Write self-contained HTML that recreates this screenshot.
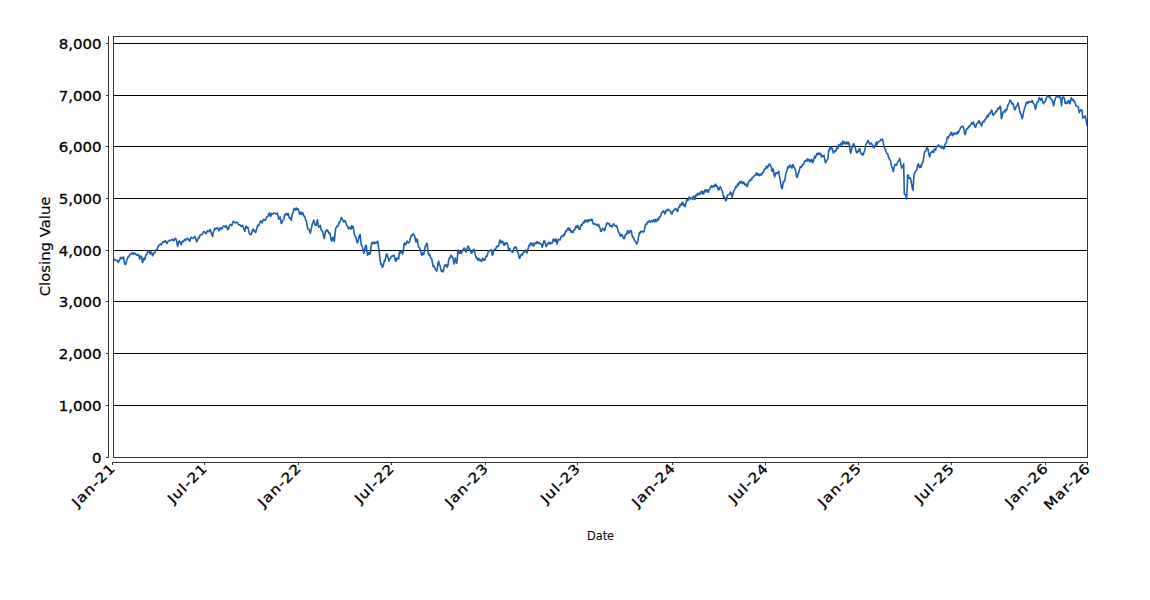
<!DOCTYPE html><html><head><meta charset="utf-8"><title>Closing Value</title><style>html,body{margin:0;padding:0;background:#fff;}svg{display:block;}</style></head><body>
<svg width="1150" height="600" viewBox="0 0 1150 600">
<rect width="1150" height="600" fill="#fff"/>
<g shape-rendering="crispEdges" stroke="#000" stroke-width="1">
<line x1="113" y1="43.5" x2="1088" y2="43.5"/>
<line x1="113" y1="95.5" x2="1088" y2="95.5"/>
<line x1="113" y1="146.5" x2="1088" y2="146.5"/>
<line x1="113" y1="198.5" x2="1088" y2="198.5"/>
<line x1="113" y1="250.5" x2="1088" y2="250.5"/>
<line x1="113" y1="301.5" x2="1088" y2="301.5"/>
<line x1="113" y1="353.5" x2="1088" y2="353.5"/>
<line x1="113" y1="405.5" x2="1088" y2="405.5"/>
<line x1="113" y1="457.5" x2="1088" y2="457.5"/>
</g>
<defs><clipPath id="plotclip"><rect x="113" y="36" width="975" height="422"/></clipPath></defs>
<path clip-path="url(#plotclip)" d="M113.5 260.0 L114.3 259.3 L115.2 260.0 L115.8 260.6 L116.5 260.4 L117.4 260.2 L118.3 262.3 L118.9 261.7 L119.6 260.4 L120.2 257.9 L120.9 257.4 L121.6 258.6 L122.2 258.3 L122.8 257.4 L123.5 257.0 L124.3 262.2 L124.9 264.3 L125.5 264.6 L126.5 261.3 L127.4 258.6 L128.3 256.5 L129.0 256.6 L129.7 254.7 L130.4 254.3 L131.1 254.2 L131.9 252.6 L132.6 253.0 L133.4 254.4 L134.3 253.0 L135.0 253.3 L135.7 254.3 L136.6 255.3 L137.4 255.2 L138.3 254.3 L138.9 255.6 L139.6 259.1 L140.6 256.1 L141.5 256.5 L142.3 262.6 L142.9 262.2 L143.5 258.7 L144.2 258.1 L144.8 259.6 L145.8 255.2 L146.6 254.7 L147.4 252.6 L148.2 250.6 L149.1 251.7 L149.6 253.1 L150.2 253.9 L150.9 251.8 L151.6 252.6 L152.2 254.8 L152.8 255.7 L153.4 253.9 L153.9 253.0 L154.6 253.0 L155.2 252.2 L155.8 250.3 L156.5 249.6 L157.2 249.6 L157.8 247.0 L158.7 245.6 L159.6 245.2 L160.4 243.9 L161.3 244.7 L162.2 243.5 L162.8 241.8 L163.5 242.2 L164.2 242.3 L164.8 240.9 L165.4 240.6 L166.1 242.2 L167.0 243.5 L167.8 241.3 L168.5 241.3 L169.3 240.4 L170.0 240.4 L170.8 240.5 L171.7 239.6 L172.6 239.1 L173.5 240.9 L174.3 240.4 L175.2 238.3 L175.8 238.7 L176.5 240.4 L177.1 244.5 L177.7 246.5 L178.7 241.7 L179.3 240.9 L180.0 241.7 L180.7 243.9 L181.3 244.8 L181.9 241.7 L182.6 241.3 L183.4 241.8 L184.3 240.0 L185.0 239.2 L185.8 240.4 L186.5 239.1 L187.4 238.2 L188.3 239.1 L189.3 240.9 L189.9 241.2 L190.4 238.7 L191.3 237.3 L192.2 238.3 L193.1 238.5 L193.9 237.4 L194.8 236.3 L195.7 238.3 L196.7 241.7 L197.2 241.0 L197.8 239.6 L198.5 237.3 L199.3 237.9 L200.0 235.2 L200.8 234.6 L201.7 234.8 L202.6 234.0 L203.5 231.5 L204.2 231.6 L204.8 232.2 L205.7 233.7 L206.5 233.0 L207.2 230.7 L207.8 230.9 L208.7 231.7 L209.6 230.4 L210.2 229.6 L210.9 231.7 L211.8 234.7 L212.6 236.5 L213.2 232.7 L213.9 231.3 L214.8 228.3 L215.7 229.3 L216.5 228.3 L217.4 227.7 L218.3 229.1 L218.9 230.6 L219.6 230.4 L220.2 227.7 L220.9 227.8 L221.8 229.1 L222.6 227.4 L223.4 226.1 L224.3 226.5 L225.2 227.2 L226.1 225.7 L226.9 227.4 L227.8 229.6 L228.4 229.2 L229.1 226.5 L230.0 224.5 L230.9 224.8 L231.8 225.5 L232.6 223.0 L233.4 221.2 L234.3 222.2 L235.2 223.0 L236.1 222.6 L236.9 222.1 L237.8 223.0 L238.7 225.0 L239.6 224.8 L240.2 225.2 L240.9 226.1 L241.6 226.5 L242.2 225.2 L242.8 226.1 L243.5 227.8 L244.2 229.9 L244.8 231.3 L245.4 228.4 L246.1 226.1 L246.9 227.8 L247.8 227.0 L248.4 229.4 L249.1 232.6 L250.0 234.3 L250.7 234.8 L251.3 234.3 L252.2 231.3 L252.8 229.5 L253.5 229.1 L254.2 231.4 L254.8 230.9 L255.7 232.6 L256.4 229.9 L257.0 227.8 L257.8 225.2 L258.5 225.8 L259.1 224.8 L260.0 222.2 L260.6 220.8 L261.3 221.3 L262.0 222.9 L262.6 221.7 L263.5 219.3 L264.3 219.6 L265.2 220.4 L266.1 218.3 L266.8 216.8 L267.4 216.5 L268.1 216.1 L268.9 213.5 L269.6 213.0 L270.2 216.0 L270.9 216.1 L271.5 213.5 L272.2 213.9 L273.0 213.9 L273.9 213.0 L274.8 213.0 L275.7 213.9 L276.5 214.0 L277.4 213.0 L278.0 215.5 L278.7 219.1 L279.4 218.9 L280.0 217.0 L280.6 219.2 L281.3 223.5 L282.0 222.8 L282.6 220.9 L283.2 219.8 L283.9 219.1 L284.8 214.3 L285.5 214.7 L286.1 213.5 L286.8 213.6 L287.4 215.2 L288.3 213.5 L289.0 216.9 L289.6 218.3 L290.5 217.8 L291.3 220.4 L292.2 213.9 L293.0 212.7 L293.9 209.1 L294.4 208.3 L295.0 209.3 L295.7 210.3 L296.4 208.1 L297.0 209.4 L297.7 209.1 L298.4 209.1 L299.0 212.0 L299.6 214.3 L300.3 214.0 L301.0 212.1 L301.6 214.5 L302.3 212.7 L303.0 213.1 L303.6 215.7 L304.3 216.0 L305.0 217.2 L305.6 220.2 L306.3 220.7 L307.0 224.4 L307.7 228.7 L308.4 229.3 L309.0 229.3 L309.6 230.8 L310.3 233.3 L311.0 230.4 L311.7 226.7 L312.4 223.8 L313.0 222.5 L313.7 220.0 L314.4 222.1 L315.0 224.7 L315.6 225.4 L316.3 225.3 L316.9 222.2 L317.4 219.7 L318.0 224.2 L318.7 227.3 L319.5 226.1 L320.3 225.3 L321.0 229.4 L321.7 230.7 L322.4 230.9 L323.0 233.3 L323.6 236.4 L324.3 238.7 L325.0 234.1 L325.7 230.7 L326.4 231.3 L327.0 229.8 L327.7 230.4 L328.4 232.2 L329.0 233.3 L329.6 232.6 L330.3 234.7 L331.0 239.6 L331.7 241.3 L332.4 238.4 L333.0 237.3 L333.6 240.2 L334.3 241.3 L335.0 234.3 L335.7 228.0 L336.4 227.7 L337.0 226.0 L337.7 226.0 L338.4 225.5 L339.0 222.4 L339.7 222.7 L340.5 220.4 L341.4 217.3 L342.2 218.8 L343.0 220.7 L343.8 222.2 L344.6 220.7 L345.5 221.4 L346.3 224.0 L347.0 226.0 L347.6 226.2 L348.3 228.7 L349.0 228.7 L349.6 227.3 L350.3 228.0 L351.0 229.2 L351.6 225.8 L352.3 228.0 L353.0 226.4 L353.6 229.6 L354.3 234.0 L355.0 236.1 L355.7 236.7 L356.4 239.3 L357.0 242.7 L357.6 242.6 L358.3 240.0 L359.2 236.3 L360.1 234.4 L361.0 242.7 L361.6 246.0 L362.3 246.7 L363.0 249.3 L363.7 253.3 L364.4 251.2 L365.0 248.0 L365.6 245.3 L366.3 245.3 L367.0 251.9 L367.7 255.3 L368.4 252.6 L369.0 252.7 L369.6 254.3 L370.3 253.3 L371.0 246.7 L371.7 242.7 L372.4 243.8 L373.0 242.0 L373.7 242.4 L374.4 243.6 L375.0 242.3 L375.7 243.3 L376.4 242.9 L377.0 241.7 L377.7 241.3 L378.4 246.6 L379.0 250.7 L379.6 255.4 L380.3 261.3 L381.0 264.5 L381.6 263.8 L382.3 267.3 L383.0 266.5 L383.7 264.0 L384.4 260.3 L385.0 261.1 L385.7 257.3 L386.4 254.1 L387.0 254.0 L387.7 257.1 L388.3 258.4 L389.0 261.3 L390.0 258.7 L390.7 258.3 L391.3 256.4 L392.0 256.0 L392.6 256.1 L393.3 255.3 L394.0 255.2 L394.7 257.3 L395.4 260.8 L396.0 261.3 L396.6 258.3 L397.3 258.0 L398.0 259.2 L398.7 258.7 L399.3 252.7 L400.0 251.1 L400.6 253.1 L401.3 251.3 L402.0 252.3 L402.7 254.0 L403.4 250.1 L404.0 244.0 L404.6 242.9 L405.3 244.7 L406.0 244.6 L406.7 242.0 L407.4 241.1 L408.0 242.7 L408.9 242.9 L409.7 241.3 L410.5 237.9 L411.3 235.3 L412.1 236.0 L412.9 234.0 L413.8 234.3 L414.7 236.0 L415.4 240.3 L416.0 242.0 L416.6 239.1 L417.3 239.3 L418.0 244.1 L418.7 247.3 L419.5 247.9 L420.4 250.0 L421.3 254.0 L422.0 255.5 L422.6 252.8 L423.3 254.4 L424.0 254.0 L424.6 249.6 L425.3 246.0 L426.0 245.7 L426.6 243.2 L427.3 244.0 L428.0 252.7 L428.7 254.9 L429.3 254.0 L430.0 255.3 L430.6 258.0 L431.3 258.0 L432.0 259.8 L432.7 264.7 L433.4 266.7 L434.0 265.7 L434.7 267.3 L435.4 269.6 L436.0 269.6 L436.7 271.3 L437.4 268.2 L438.0 263.1 L438.7 261.3 L439.4 264.9 L440.0 265.3 L440.7 268.7 L441.4 271.3 L442.0 270.1 L442.7 272.0 L443.4 271.1 L444.0 267.3 L444.7 265.1 L445.3 266.1 L446.0 264.7 L446.6 265.4 L447.3 267.3 L448.0 264.8 L448.6 260.6 L449.3 258.0 L450.0 258.1 L450.6 255.6 L451.3 255.3 L452.0 257.1 L452.7 257.3 L453.4 260.3 L454.0 264.0 L454.6 262.5 L455.3 258.0 L456.0 260.0 L456.7 263.3 L457.4 257.8 L458.0 250.7 L458.7 250.2 L459.3 253.3 L460.0 252.4 L460.7 251.5 L461.3 253.6 L462.0 252.0 L462.7 249.8 L463.3 250.3 L464.0 248.0 L464.7 248.4 L465.3 250.9 L466.0 252.0 L466.7 249.2 L467.3 248.5 L468.0 246.0 L468.7 246.9 L469.3 249.5 L470.0 249.3 L470.6 250.9 L471.3 253.3 L472.0 253.2 L472.6 250.1 L473.3 251.3 L474.0 249.3 L474.6 251.6 L475.3 255.3 L476.0 257.6 L476.6 257.0 L477.3 259.3 L478.0 260.4 L478.6 258.6 L479.3 258.7 L480.0 260.6 L480.6 259.9 L481.3 261.3 L482.0 261.0 L482.6 258.3 L483.3 258.7 L484.1 260.3 L485.0 260.0 L485.6 257.0 L486.3 256.0 L487.0 256.3 L487.7 254.0 L488.4 250.9 L489.0 250.7 L489.6 251.2 L490.3 250.0 L491.0 249.6 L491.7 251.3 L492.3 255.3 L493.0 254.2 L493.7 251.3 L494.4 249.4 L495.0 249.3 L495.6 249.5 L496.3 247.3 L497.0 246.2 L497.7 246.7 L498.4 246.3 L499.0 244.0 L499.6 241.1 L500.3 240.0 L501.0 242.9 L501.7 242.7 L502.4 241.2 L503.0 242.0 L503.6 245.1 L504.3 245.3 L505.0 242.9 L505.6 244.1 L506.3 242.7 L507.0 243.0 L507.7 245.3 L508.4 248.8 L509.0 249.3 L509.7 248.4 L510.3 250.6 L511.0 250.7 L511.7 250.8 L512.3 252.4 L513.0 252.0 L513.6 249.3 L514.3 247.3 L515.0 247.8 L515.6 247.0 L516.3 247.3 L517.0 250.8 L517.7 252.0 L518.4 253.4 L519.0 257.3 L519.6 258.5 L520.3 256.7 L521.0 254.9 L521.7 254.0 L522.4 254.9 L523.0 253.3 L523.7 251.3 L524.3 252.0 L525.0 250.7 L525.6 249.9 L526.3 252.0 L527.0 252.9 L527.7 250.7 L528.4 247.5 L529.0 245.3 L529.6 245.8 L530.3 243.3 L531.0 243.0 L531.6 245.1 L532.3 244.7 L533.0 243.1 L533.6 246.1 L534.3 244.7 L535.0 243.3 L535.7 242.7 L536.4 243.4 L537.0 241.6 L537.7 242.4 L538.4 243.4 L539.0 242.5 L539.7 243.3 L540.4 244.3 L541.0 244.0 L541.6 244.4 L542.3 247.3 L543.0 244.5 L543.7 241.3 L544.4 240.7 L545.0 242.0 L545.6 245.2 L546.3 246.7 L547.0 244.8 L547.7 243.3 L548.4 244.0 L549.0 242.2 L549.7 243.3 L550.4 244.0 L551.0 242.6 L551.7 242.7 L552.4 242.9 L553.0 240.0 L553.6 239.0 L554.3 240.7 L555.0 241.3 L555.7 238.7 L556.4 241.0 L557.0 244.0 L557.6 242.2 L558.3 239.3 L559.0 239.4 L559.7 240.0 L560.4 239.6 L561.0 236.7 L561.7 235.9 L562.3 236.6 L563.0 236.0 L563.7 234.3 L564.3 235.7 L565.0 233.3 L565.7 230.9 L566.3 231.7 L567.0 230.0 L567.6 228.6 L568.3 228.0 L569.0 230.2 L569.6 228.3 L570.3 230.0 L571.0 231.9 L571.6 231.0 L572.3 232.3 L573.0 232.7 L573.6 230.2 L574.3 230.0 L575.0 229.5 L575.6 227.0 L576.3 226.0 L577.0 227.7 L577.6 225.4 L578.3 226.7 L579.1 229.3 L580.0 229.3 L580.6 226.7 L581.3 224.7 L582.0 225.4 L582.7 223.3 L583.4 222.1 L584.0 223.0 L584.7 220.7 L585.4 220.1 L586.0 221.8 L586.7 221.3 L587.4 219.9 L588.0 221.9 L588.7 220.0 L589.4 219.7 L590.0 220.8 L590.7 220.7 L591.4 219.1 L592.0 219.3 L592.6 222.2 L593.3 224.0 L594.0 223.6 L594.6 224.4 L595.3 224.0 L596.0 224.4 L596.7 225.3 L597.4 225.6 L598.0 224.3 L598.7 224.7 L599.4 227.5 L600.0 227.8 L600.7 231.3 L601.4 231.3 L602.0 230.0 L602.6 228.4 L603.3 228.7 L604.0 230.1 L604.7 230.7 L605.4 227.5 L606.0 226.0 L606.7 223.3 L607.4 223.0 L608.0 224.0 L608.7 224.0 L609.4 223.4 L610.0 226.3 L610.7 226.0 L611.4 225.5 L612.0 226.9 L612.7 226.0 L613.5 223.8 L614.4 224.7 L615.2 226.0 L616.0 226.7 L616.6 225.7 L617.3 227.3 L618.0 230.8 L618.7 232.7 L619.4 233.1 L620.0 235.3 L620.6 236.4 L621.3 234.7 L622.0 234.6 L622.7 236.0 L623.5 238.3 L624.3 238.7 L625.1 235.2 L626.0 234.0 L626.7 234.5 L627.3 231.1 L628.0 230.7 L628.8 233.1 L629.6 232.7 L630.5 230.5 L631.3 230.7 L632.0 235.1 L632.7 237.3 L633.4 237.2 L634.0 238.7 L634.6 240.7 L635.3 241.3 L636.0 242.4 L636.7 244.0 L637.4 242.7 L638.0 240.7 L638.6 236.4 L639.3 232.7 L640.0 233.5 L640.6 231.2 L641.3 231.3 L642.0 232.0 L642.6 231.4 L643.3 232.0 L644.0 231.7 L644.7 228.7 L645.4 224.9 L646.0 224.0 L646.7 224.5 L647.3 222.1 L648.0 222.0 L648.7 222.3 L649.3 220.9 L650.0 221.3 L650.7 222.1 L651.3 220.9 L652.0 221.3 L652.7 221.7 L653.3 219.9 L654.0 220.0 L654.7 222.0 L655.3 219.3 L656.0 221.3 L656.7 221.4 L657.3 219.0 L658.0 218.7 L658.7 219.8 L659.3 217.1 L660.0 217.3 L660.6 216.0 L661.3 213.3 L662.0 212.2 L662.6 212.3 L663.3 210.7 L664.0 211.5 L664.7 214.0 L665.4 213.3 L666.0 210.7 L666.7 209.8 L667.3 210.7 L668.0 209.3 L668.7 209.6 L669.3 210.8 L670.0 210.7 L670.7 211.5 L671.3 213.7 L672.0 214.0 L672.6 212.1 L673.3 210.7 L674.1 209.9 L675.0 208.7 L675.6 208.4 L676.3 209.3 L677.0 210.8 L677.7 211.3 L678.4 208.0 L679.0 206.7 L679.7 207.0 L680.3 204.1 L681.0 204.7 L681.7 205.2 L682.3 202.2 L683.0 202.7 L683.7 205.5 L684.3 204.6 L685.0 206.7 L685.6 204.7 L686.3 201.3 L687.0 199.4 L687.7 200.7 L688.4 200.0 L689.0 197.2 L689.7 197.3 L690.4 198.9 L691.0 198.0 L691.7 198.7 L692.4 199.1 L693.0 196.7 L693.7 196.1 L694.3 199.5 L695.0 199.3 L695.6 195.8 L696.3 194.7 L697.0 195.6 L697.6 193.4 L698.3 193.3 L699.0 194.6 L699.7 194.0 L700.4 192.2 L701.0 193.6 L701.7 191.3 L702.4 191.3 L703.0 194.0 L703.6 194.0 L704.3 191.3 L705.0 189.8 L705.6 191.9 L706.3 190.0 L707.0 189.8 L707.7 192.0 L708.4 192.3 L709.0 189.7 L709.7 189.3 L710.4 187.9 L711.0 186.0 L711.7 185.8 L712.3 187.2 L713.0 186.7 L713.7 185.7 L714.3 186.7 L715.0 184.7 L715.7 184.2 L716.3 186.6 L717.0 186.0 L717.6 186.9 L718.3 190.0 L719.0 189.8 L719.7 187.3 L720.4 186.8 L721.0 188.0 L721.7 190.4 L722.3 191.1 L723.0 194.7 L723.7 197.3 L724.3 196.5 L725.0 198.7 L725.7 200.7 L726.4 199.9 L727.0 197.3 L727.6 194.9 L728.3 194.7 L729.0 194.6 L729.7 194.0 L730.4 192.1 L731.0 192.7 L731.6 195.6 L732.3 197.3 L733.0 193.7 L733.7 190.7 L734.4 190.3 L735.0 188.7 L735.7 186.6 L736.3 187.4 L737.0 186.0 L737.7 183.7 L738.3 185.4 L739.0 182.7 L739.7 181.6 L740.3 183.0 L741.0 182.0 L741.7 181.4 L742.3 183.6 L743.0 182.7 L743.6 182.1 L744.3 184.0 L745.0 185.1 L745.7 184.0 L746.4 184.3 L747.0 186.7 L747.7 185.2 L748.3 182.7 L749.0 181.3 L749.7 181.4 L750.3 179.2 L751.0 180.0 L751.7 179.7 L752.3 177.2 L753.0 177.3 L753.7 176.9 L754.3 175.7 L755.0 175.3 L755.7 175.2 L756.3 172.8 L757.0 173.3 L757.7 175.1 L758.3 173.5 L759.0 175.3 L759.7 175.7 L760.3 174.0 L761.0 174.7 L761.7 174.9 L762.3 172.5 L763.0 172.7 L763.7 171.9 L764.3 169.0 L765.0 169.3 L765.7 169.1 L766.3 166.4 L767.0 167.3 L767.6 167.8 L768.3 165.3 L769.1 164.4 L769.9 164.0 L770.6 166.2 L771.3 166.7 L772.0 171.3 L772.6 169.0 L773.3 169.3 L774.0 174.6 L774.7 176.7 L775.4 173.9 L776.0 172.7 L776.6 173.6 L777.3 173.3 L778.0 171.8 L778.7 171.3 L779.4 176.5 L780.0 178.7 L780.6 182.5 L781.3 187.3 L782.3 188.7 L783.3 181.3 L784.0 182.0 L784.7 180.7 L785.4 176.6 L786.0 173.3 L786.6 171.9 L787.3 168.7 L788.0 166.5 L788.6 167.8 L789.3 166.7 L790.0 165.0 L790.7 166.0 L791.4 167.9 L792.0 168.0 L792.6 164.9 L793.3 164.7 L794.0 167.5 L794.7 168.0 L795.4 170.1 L796.0 173.3 L796.6 176.8 L797.3 177.3 L798.0 174.1 L798.7 172.7 L799.4 170.2 L800.0 167.3 L800.7 166.7 L801.3 167.3 L802.0 166.0 L802.6 164.5 L803.3 164.7 L804.0 163.6 L804.7 161.3 L805.4 160.5 L806.0 161.1 L806.7 160.0 L807.4 159.1 L808.0 160.9 L808.7 159.3 L809.4 159.8 L810.0 161.9 L810.7 161.3 L811.4 159.3 L812.0 160.0 L812.7 162.7 L813.4 161.1 L814.0 158.7 L814.7 156.3 L815.3 158.1 L816.0 156.0 L816.7 153.6 L817.3 154.8 L818.0 153.3 L818.7 152.8 L819.3 154.5 L820.0 154.0 L820.7 153.3 L821.3 156.8 L822.0 156.7 L822.7 155.5 L823.3 156.6 L824.0 155.3 L824.6 158.4 L825.3 162.7 L826.0 162.0 L826.7 160.7 L827.4 159.4 L828.0 158.7 L828.7 150.0 L829.4 150.3 L830.0 147.2 L830.7 146.7 L831.4 148.9 L832.0 148.0 L832.6 149.8 L833.3 152.7 L834.0 152.8 L834.6 150.9 L835.3 151.3 L836.0 150.7 L836.6 148.4 L837.3 148.0 L838.0 148.6 L838.6 144.8 L839.3 145.3 L840.0 146.2 L840.6 143.4 L841.3 144.0 L842.0 144.8 L842.6 141.1 L843.3 142.0 L844.0 143.6 L844.6 142.1 L845.3 144.0 L846.0 143.8 L846.6 141.9 L847.3 142.7 L848.0 144.0 L848.6 142.3 L849.3 144.0 L850.0 149.8 L850.7 153.3 L851.4 150.0 L852.0 148.0 L852.7 146.9 L853.3 143.8 L854.0 144.0 L854.7 146.6 L855.3 147.6 L856.0 150.7 L856.6 152.4 L857.3 152.7 L858.0 150.7 L858.6 151.3 L859.3 148.7 L860.0 148.9 L860.6 152.8 L861.3 154.0 L862.0 153.5 L862.7 155.3 L863.4 154.3 L864.0 152.0 L865.0 149.7 L865.6 145.7 L866.3 143.7 L867.1 142.8 L867.9 140.3 L868.8 141.9 L869.7 144.3 L870.4 144.1 L871.0 143.0 L871.6 143.5 L872.3 145.0 L873.0 147.4 L873.6 145.9 L874.3 147.7 L875.0 146.2 L875.7 143.7 L876.4 142.0 L877.0 144.8 L877.7 143.0 L878.4 141.5 L879.0 141.7 L879.6 141.4 L880.3 140.3 L881.0 139.4 L881.6 139.8 L882.3 139.0 L883.0 141.3 L883.7 145.0 L884.4 147.3 L885.0 149.0 L885.6 150.1 L886.3 152.3 L887.0 153.6 L887.7 153.7 L888.7 157.7 L889.7 159.7 L890.4 160.4 L891.0 163.0 L891.6 166.8 L892.3 167.7 L893.3 171.7 L894.3 166.3 L895.0 164.4 L895.7 165.0 L896.4 165.4 L897.0 164.3 L897.6 161.9 L898.3 161.0 L899.0 160.6 L899.7 158.3 L900.7 163.7 L901.7 168.3 L902.4 166.0 L903.0 165.9 L903.7 163.7 L904.3 194.3 L905.0 194.4 L905.7 195.0 L906.6 199.0 L907.2 187.6 L907.7 175.0 L908.4 175.1 L909.0 178.3 L909.6 178.4 L910.3 177.7 L911.0 180.4 L911.7 185.0 L912.4 188.7 L913.0 190.3 L913.6 180.2 L914.3 173.0 L915.0 172.8 L915.6 171.1 L916.3 171.0 L917.0 169.1 L917.6 165.4 L918.3 163.7 L919.0 166.5 L919.7 167.7 L920.4 165.3 L921.0 167.3 L921.7 165.0 L922.4 162.2 L923.0 162.3 L923.6 157.9 L924.3 153.0 L925.0 151.4 L925.6 151.5 L926.3 149.0 L927.1 147.5 L927.9 149.0 L928.8 153.9 L929.7 157.0 L930.4 153.6 L931.0 152.3 L931.7 152.3 L932.3 151.2 L933.0 151.7 L933.7 152.5 L934.3 149.0 L935.0 149.7 L935.7 150.2 L936.3 146.3 L937.0 147.0 L937.6 146.5 L938.3 145.0 L939.0 145.3 L939.6 146.7 L940.3 147.0 L941.0 146.1 L941.6 148.2 L942.3 147.0 L943.0 146.5 L943.7 149.0 L944.4 148.4 L945.0 144.4 L945.7 143.7 L946.4 142.3 L947.0 138.3 L947.7 136.8 L948.3 137.9 L949.0 136.3 L949.7 134.7 L950.3 134.9 L951.0 132.3 L951.7 132.7 L952.3 135.6 L953.0 135.0 L953.7 133.2 L954.3 134.3 L955.0 133.0 L955.7 132.9 L956.3 134.0 L957.0 133.7 L957.7 131.7 L958.3 133.1 L959.0 131.0 L960.0 129.3 L960.6 127.6 L961.3 126.7 L962.0 126.6 L962.7 126.0 L963.4 127.1 L964.0 130.0 L964.6 133.4 L965.3 134.7 L966.0 131.0 L966.7 128.7 L967.4 128.9 L968.0 128.0 L968.6 126.3 L969.3 126.7 L970.0 125.9 L970.7 124.7 L971.4 123.1 L972.0 122.7 L972.7 124.0 L973.3 122.0 L974.0 124.0 L974.9 126.8 L975.7 127.3 L976.5 123.9 L977.3 123.3 L978.0 123.3 L978.6 121.0 L979.3 120.7 L980.0 122.9 L980.7 124.0 L981.6 126.0 L982.5 122.1 L983.3 121.3 L984.0 122.1 L984.6 119.8 L985.3 120.0 L986.0 118.6 L986.7 116.7 L987.4 115.3 L988.0 116.9 L988.7 115.3 L989.4 113.4 L990.0 113.7 L990.7 112.0 L991.4 110.2 L992.0 110.7 L992.6 114.5 L993.3 115.3 L994.0 113.9 L994.6 113.8 L995.3 112.7 L996.0 111.1 L996.6 111.7 L997.3 110.0 L998.0 108.2 L998.6 109.1 L999.3 108.0 L1000.0 106.3 L1000.7 107.3 L1001.3 118.7 L1002.0 117.2 L1002.7 113.3 L1003.4 111.7 L1004.0 112.0 L1004.7 112.1 L1005.3 109.6 L1006.0 110.7 L1006.6 110.0 L1007.3 108.0 L1008.0 104.7 L1008.7 104.0 L1009.4 102.5 L1010.0 100.0 L1010.6 100.5 L1011.3 102.0 L1012.0 103.9 L1012.7 103.3 L1013.4 104.7 L1014.0 107.3 L1014.6 109.8 L1015.3 109.3 L1016.0 106.8 L1016.7 106.0 L1017.4 104.8 L1018.0 102.7 L1018.6 105.2 L1019.3 108.7 L1020.0 112.1 L1020.7 114.0 L1021.4 115.2 L1022.0 118.7 L1022.6 117.5 L1023.3 113.3 L1024.0 110.2 L1024.7 108.0 L1025.3 106.4 L1026.0 103.3 L1026.7 102.2 L1027.3 102.0 L1028.0 103.6 L1028.6 101.6 L1029.3 102.0 L1030.0 101.8 L1030.6 102.3 L1031.2 102.2 L1031.8 101.1 L1032.4 100.6 L1033.0 103.0 L1033.6 103.8 L1034.4 104.2 L1035.4 109.4 L1036.4 105.8 L1037.0 102.3 L1037.6 101.8 L1038.2 102.0 L1038.8 99.4 L1039.4 97.6 L1040.0 98.2 L1040.6 100.2 L1041.2 99.0 L1041.8 98.3 L1042.4 100.6 L1043.0 102.9 L1043.6 103.8 L1044.2 102.1 L1044.8 101.4 L1045.4 101.7 L1046.0 99.0 L1046.8 97.0 L1047.4 95.6 L1048.0 96.6 L1048.6 97.0 L1049.2 97.0 L1049.8 96.5 L1050.4 98.2 L1051.0 99.5 L1051.6 99.4 L1052.2 100.3 L1052.8 102.6 L1053.6 105.8 L1054.4 101.0 L1055.0 100.1 L1055.6 97.8 L1056.2 96.8 L1056.8 96.6 L1057.4 96.6 L1058.0 96.2 L1058.8 97.4 L1059.6 96.6 L1060.2 97.4 L1060.8 99.4 L1061.6 105.8 L1062.4 97.0 L1063.0 97.7 L1063.6 97.0 L1064.4 98.6 L1065.2 103.4 L1065.8 101.9 L1066.4 103.4 L1067.0 103.6 L1067.6 103.0 L1068.2 100.5 L1068.8 101.0 L1069.4 102.9 L1070.0 103.8 L1070.6 100.1 L1071.2 97.8 L1071.8 100.0 L1072.4 99.4 L1073.0 99.0 L1073.6 101.4 L1074.4 101.0 L1075.2 103.4 L1076.0 105.8 L1076.8 106.2 L1077.6 106.6 L1078.4 107.4 L1079.2 112.6 L1080.0 110.6 L1080.6 110.8 L1081.2 109.4 L1082.0 110.6 L1082.8 118.2 L1083.6 116.6 L1084.4 117.4 L1085.2 115.8 L1086.0 119.4 L1087.0 125.8" fill="none" stroke="#1f5fb0" stroke-width="1.6" stroke-linejoin="round"/>
<g shape-rendering="crispEdges" stroke="#333" stroke-width="1" fill="none">
<rect x="113.5" y="36.5" width="974" height="421"/>
<line x1="108.5" y1="36" x2="108.5" y2="458"/>
<line x1="106" y1="43.5" x2="108" y2="43.5"/>
<line x1="106" y1="95.5" x2="108" y2="95.5"/>
<line x1="106" y1="146.5" x2="108" y2="146.5"/>
<line x1="106" y1="198.5" x2="108" y2="198.5"/>
<line x1="106" y1="250.5" x2="108" y2="250.5"/>
<line x1="106" y1="301.5" x2="108" y2="301.5"/>
<line x1="106" y1="353.5" x2="108" y2="353.5"/>
<line x1="106" y1="405.5" x2="108" y2="405.5"/>
<line x1="106" y1="457.5" x2="108" y2="457.5"/>
<line x1="112" y1="462.5" x2="1088" y2="462.5"/>
<line x1="112.5" y1="463" x2="112.5" y2="465"/>
<line x1="204.5" y1="463" x2="204.5" y2="465"/>
<line x1="298.5" y1="463" x2="298.5" y2="465"/>
<line x1="391.5" y1="463" x2="391.5" y2="465"/>
<line x1="485.5" y1="463" x2="485.5" y2="465"/>
<line x1="577.5" y1="463" x2="577.5" y2="465"/>
<line x1="672.5" y1="463" x2="672.5" y2="465"/>
<line x1="765.5" y1="463" x2="765.5" y2="465"/>
<line x1="858.5" y1="463" x2="858.5" y2="465"/>
<line x1="951.5" y1="463" x2="951.5" y2="465"/>
<line x1="1045.5" y1="463" x2="1045.5" y2="465"/>
<line x1="1087.5" y1="463" x2="1087.5" y2="465"/>
</g>
<g font-family="'DejaVu Sans', 'Liberation Sans', sans-serif" font-size="13.5" fill="#000" stroke="#000" stroke-width="0.3">
<text transform="translate(101.5 48.60) scale(1.11 1)" text-anchor="end">8,000</text>
<text transform="translate(101.5 100.60) scale(1.11 1)" text-anchor="end">7,000</text>
<text transform="translate(101.5 151.60) scale(1.11 1)" text-anchor="end">6,000</text>
<text transform="translate(101.5 203.60) scale(1.11 1)" text-anchor="end">5,000</text>
<text transform="translate(101.5 255.60) scale(1.11 1)" text-anchor="end">4,000</text>
<text transform="translate(101.5 306.60) scale(1.11 1)" text-anchor="end">3,000</text>
<text transform="translate(101.5 358.60) scale(1.11 1)" text-anchor="end">2,000</text>
<text transform="translate(101.5 410.60) scale(1.11 1)" text-anchor="end">1,000</text>
<text transform="translate(101.5 462.60) scale(1.11 1)" text-anchor="end">0</text>
<text transform="translate(112.95 465.65) rotate(-45) scale(1.15 1)" text-anchor="end" dy="0.35em" letter-spacing="0.8">Jan-21</text>
<text transform="translate(204.95 465.65) rotate(-45) scale(1.15 1)" text-anchor="end" dy="0.35em" letter-spacing="0.8">Jul-21</text>
<text transform="translate(298.95 465.65) rotate(-45) scale(1.15 1)" text-anchor="end" dy="0.35em" letter-spacing="0.8">Jan-22</text>
<text transform="translate(391.95 465.65) rotate(-45) scale(1.15 1)" text-anchor="end" dy="0.35em" letter-spacing="0.8">Jul-22</text>
<text transform="translate(485.95 465.65) rotate(-45) scale(1.15 1)" text-anchor="end" dy="0.35em" letter-spacing="0.8">Jan-23</text>
<text transform="translate(577.95 465.65) rotate(-45) scale(1.15 1)" text-anchor="end" dy="0.35em" letter-spacing="0.8">Jul-23</text>
<text transform="translate(672.95 465.65) rotate(-45) scale(1.15 1)" text-anchor="end" dy="0.35em" letter-spacing="0.8">Jan-24</text>
<text transform="translate(765.95 465.65) rotate(-45) scale(1.15 1)" text-anchor="end" dy="0.35em" letter-spacing="0.8">Jul-24</text>
<text transform="translate(858.95 465.65) rotate(-45) scale(1.15 1)" text-anchor="end" dy="0.35em" letter-spacing="0.8">Jan-25</text>
<text transform="translate(951.95 465.65) rotate(-45) scale(1.15 1)" text-anchor="end" dy="0.35em" letter-spacing="0.8">Jul-25</text>
<text transform="translate(1045.95 465.65) rotate(-45) scale(1.15 1)" text-anchor="end" dy="0.35em" letter-spacing="0.8">Jan-26</text>
<text transform="translate(1087.95 465.65) rotate(-45) scale(1.15 1)" text-anchor="end" dy="0.35em" letter-spacing="0.8">Mar-26</text>
</g>
<text transform="translate(600.5 540) scale(0.95 1)" font-family="'DejaVu Sans', 'Liberation Sans', sans-serif" font-size="12" text-anchor="middle">Date</text>
<text transform="translate(49.9 246.4) rotate(-90) scale(1.1 1)" font-family="'DejaVu Sans', 'Liberation Sans', sans-serif" font-size="13.5" text-anchor="middle" stroke="#000" stroke-width="0.15">Closing Value</text>
</svg></body></html>
